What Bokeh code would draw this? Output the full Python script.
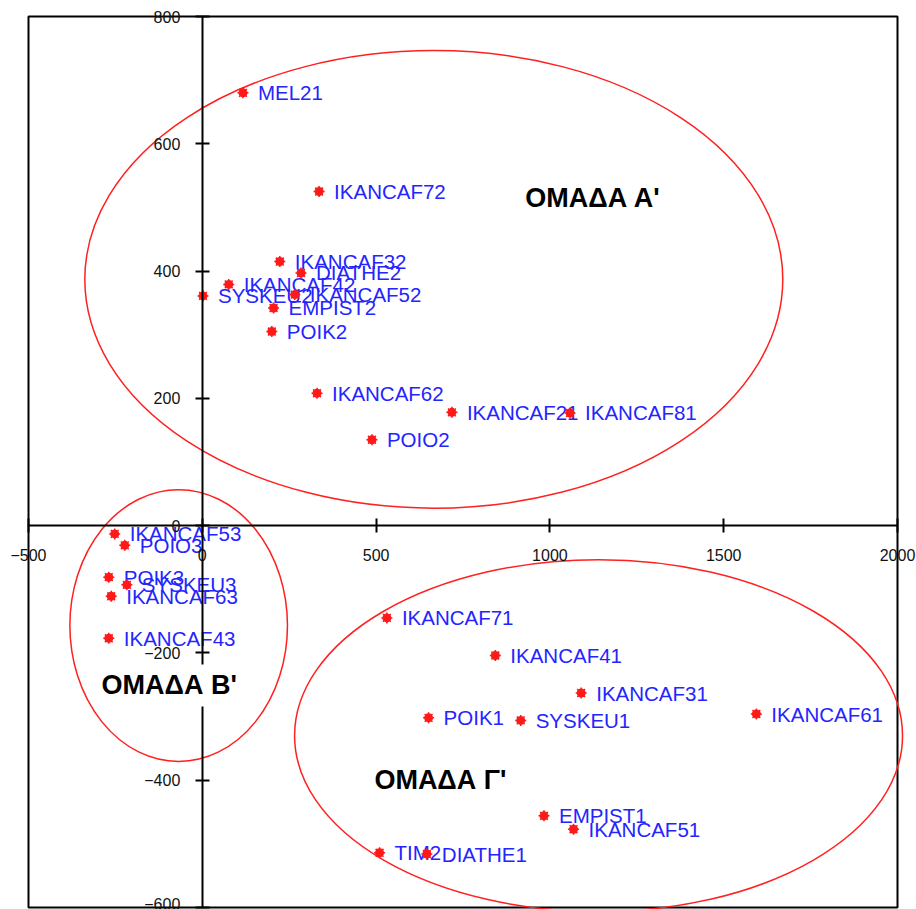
from bokeh.plotting import figure
from bokeh.models import LinearAxis, Label, ColumnDataSource, FixedTicker, Range1d
from bokeh.embed import file_html
from bokeh.resources import INLINE
from bokeh.core.properties import value

# ---- data ----
names = ["MEL21", "IKANCAF72", "IKANCAF32", "DIATHE2", "IKANCAF42", "SYSKEU2",
         "IKANCAF52", "EMPIST2", "POIK2", "IKANCAF62", "POIO2", "IKANCAF21", "IKANCAF81",
         "IKANCAF53", "POIO3", "POIK3", "SYSKEU3", "IKANCAF63", "IKANCAF43",
         "IKANCAF71", "IKANCAF41", "IKANCAF31", "POIK1", "SYSKEU1", "IKANCAF61",
         "EMPIST1", "IKANCAF51", "TIM2", "DIATHE1"]
x_vals = [117, 336, 223, 284, 76, 2, 266, 205, 200, 330, 488, 718, 1058,
          -252, -223, -269, -217, -262, -269,
          531, 843, 1090, 651, 916, 1594, 983, 1068, 510, 646]
y_vals = [680, 525, 415, 397, 379, 361, 363, 342, 305, 208, 135, 178, 177,
          -13, -31, -81, -93, -111, -177,
          -145, -204, -263, -302, -306, -296, -456, -477, -514, -516]

group_names = ["ΟΜΑΔΑ Α'", "ΟΜΑΔΑ Β'", "ΟΜΑΔΑ Γ'"]
group_label_x = [1124, -95, 685]
group_label_y = [515, -251, -400]
ellipse_cx = [666, -68, 1140]
ellipse_cy = [387, -157, -330]
ellipse_w = [2008, 626, 1749]
ellipse_h = [719, 427, 553]

x_ticks = [-500, 0, 500, 1000, 1500, 2000]
y_ticks = [-600, -400, -200, 0, 200, 400, 600, 800]

# ---- layout (pixels) ----
W, H = 916, 909
box_left, box_right, box_top, box_bottom = 28, 897, 16, 907
xmin, xmax = x_ticks[0], x_ticks[-1]
ymin, ymax = y_ticks[0], y_ticks[-1]
sx = (box_right - box_left) / (xmax - xmin)
sy = (box_bottom - box_top) / (ymax - ymin)
x_range = Range1d(xmin - box_left / sx, xmax + (W - box_right) / sx)
y_range = Range1d(ymin - (H - box_bottom) / sy, ymax + box_top / sy)

p = figure(width=W, height=H, output_backend="svg", toolbar_location=None,
           x_range=x_range, y_range=y_range,
           x_axis_location=None, y_axis_location=None,
           min_border=0)
p.grid.visible = False
p.outline_line_color = None
p.background_fill_color = "white"
p.border_fill_color = "white"

FONT = "Liberation Sans"

# plot box border
p.quad(left=[xmin], right=[xmax], bottom=[ymin], top=[ymax],
       fill_color=None, line_color="black", line_width=2)

xaxis = LinearAxis(fixed_location=0, ticker=FixedTicker(ticks=x_ticks), bounds=(xmin, xmax))
yaxis = LinearAxis(fixed_location=0, ticker=FixedTicker(ticks=y_ticks), bounds=(ymin, ymax))
for ax in (xaxis, yaxis):
    ax.axis_line_color = "black"
    ax.axis_line_width = 2
    ax.major_tick_line_color = "black"
    ax.major_tick_line_width = 2
    ax.major_tick_in = 7
    ax.major_tick_out = 7
    ax.minor_tick_line_color = None
    ax.major_label_text_font = FONT
    ax.major_label_text_font_size = "16px"
    ax.major_label_text_color = "#111111"
xaxis.major_label_standoff = 16
yaxis.major_label_standoff = 15
p.add_layout(xaxis, "below")
p.add_layout(yaxis, "left")

# ellipses
esrc = ColumnDataSource(dict(x=ellipse_cx, y=ellipse_cy, w=ellipse_w, h=ellipse_h))
p.ellipse(x="x", y="y", width="w", height="h", source=esrc,
          fill_color=None, line_color="#ff2020", line_width=1.5)

# points
src = ColumnDataSource(dict(x=x_vals, y=y_vals, name=names))
p.text(x="x", y="y", text="name", source=src, x_offset=15,
       text_font=value(FONT), text_font_size="20.5px", text_color="#2424ff",
       text_baseline="middle", text_align="left")
p.scatter(x="x", y="y", source=src, marker="circle", size=9,
          fill_color="#ff1a1a", line_color=None)
p.scatter(x="x", y="y", source=src, marker="asterisk", size=11,
          line_color="#ff1a1a", line_width=1.5)

for gname, gx, gy in zip(group_names, group_label_x, group_label_y):
    p.add_layout(Label(x=gx, y=gy, text=gname, text_font=FONT, text_font_size="27px",
                       text_font_style="bold", text_color="black",
                       text_align="center", text_baseline="middle",
                       background_fill_color="white", padding=6))

open("out.html", "w").write(file_html(p, INLINE))
